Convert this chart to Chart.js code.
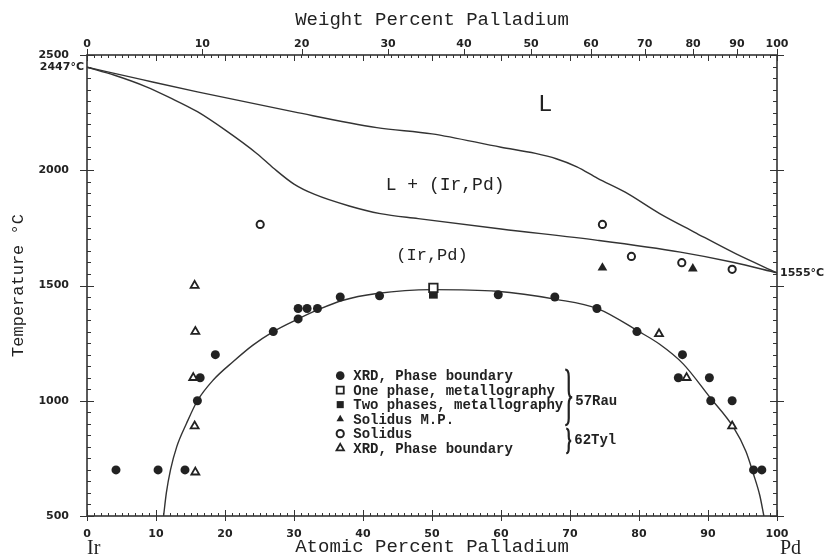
<!DOCTYPE html>
<html>
<head>
<meta charset="utf-8">
<title>Ir-Pd phase diagram</title>
<script src="https://cdn.jsdelivr.net/npm/chart.js@4.4.1/dist/chart.umd.min.js"></script>
<style>
    html, body { margin: 0; padding: 0; background: #fff; }
    canvas { display: block; }
</style>
</head>
<body>
<canvas id="chart" width="827" height="558"></canvas>
<script>
// x = atomic percent Pd, y = temperature in deg C
const liquidusAt = [0, 8, 16, 30, 42, 50, 60, 65, 68, 71, 74, 78, 83, 88, 94, 100];
const liquidusT = [2447, 2393, 2340, 2253, 2185, 2158, 2100, 2073, 2050, 2015, 1965, 1905, 1812, 1732, 1638, 1555];

const solidusAt = [0, 4, 8.6, 12, 16, 20, 24.6, 27, 30, 33, 38, 42.5, 48, 60, 74, 86, 93.6, 100];
const solidusT = [2447, 2412, 2362, 2315, 2254, 2175, 2073, 2010, 1940, 1895, 1845, 1812, 1790, 1745, 1696, 1645, 1601, 1555];

const solvusAt = [11.1, 11.5, 12.1, 13, 14.4, 16, 18.3, 21.2, 24, 27, 30.6, 33.5, 37, 42, 50, 59.4, 68, 74, 80, 83, 86.4, 90.3, 93.7, 95.5, 96.6, 97.5, 98.1];
const solvusT = [500, 600, 700, 800, 900, 1000, 1090, 1170, 1240, 1300, 1355, 1395, 1435, 1465, 1482, 1475, 1440, 1400, 1300, 1245, 1160, 1014, 884, 780, 681, 590, 500];

// 57Rau
const xrdRauAt = [4.2, 10.3, 14.2, 16.0, 16.4, 18.6, 27.0, 30.6, 30.6, 31.9, 33.4, 36.7, 42.4, 59.6, 67.8, 73.9, 79.7, 85.7, 86.3, 90.2, 90.4, 93.5, 96.6, 97.8];
const xrdRauT = [700, 700, 700, 1000, 1100, 1200, 1300, 1355, 1400, 1400, 1400, 1450, 1455, 1460, 1450, 1400, 1300, 1100, 1200, 1100, 1000, 1000, 700, 700];
const onePhaseAt = [50.2];
const onePhaseT = [1490];
const twoPhaseAt = [50.2];
const twoPhaseT = [1462];
const solidusMpAt = [74.7, 87.8];
const solidusMpT = [1577, 1573];

// 62Tyl
const solidusTylAt = [25.1, 74.7, 78.9, 86.2, 93.5];
const solidusTylT = [1765, 1765, 1626, 1599, 1570];
const xrdTylAt = [15.6, 15.7, 15.4, 15.6, 15.7, 82.9, 86.9, 93.5];
const xrdTylT = [1500, 1300, 1100, 890, 690, 1290, 1100, 890];

const wtTicks = [0, 10, 20, 30, 40, 50, 60, 70, 80, 90, 100];
const tempTicks = [500, 1000, 1500, 2000, 2500];

const M_PD = 106.42, M_IR = 192.22;
function wtToAt(w) {
    const pd = w / M_PD, ir = (100 - w) / M_IR;
    return 100 * pd / (pd + ir);
}

const ink = '#222';
const lineInk = '#333';
const tickFont = {family: 'DejaVu Sans', size: 11, weight: 'bold'};
const titleFont = {family: 'Liberation Mono', size: 19};

function pts(xs, ys) {
    return xs.map((x, i) => ({x: x, y: ys[i]}));
}

const markers = [
    {label: 'XRD, Phase boundary', data: pts(xrdRauAt, xrdRauT), pointStyle: 'circle', pointRadius: 4.5,
        pointBackgroundColor: ink, pointBorderColor: ink, pointBorderWidth: 0},
    {label: 'One phase, metallography', data: pts(onePhaseAt, onePhaseT), pointStyle: 'rect', pointRadius: 6,
        pointBackgroundColor: '#fff', pointBorderColor: ink, pointBorderWidth: 1.8},
    {label: 'Two phases, metallography', data: pts(twoPhaseAt, twoPhaseT), pointStyle: 'rect', pointRadius: 6.2,
        pointBackgroundColor: ink, pointBorderColor: ink, pointBorderWidth: 0},
    {label: 'Solidus M.P.', data: pts(solidusMpAt, solidusMpT), pointStyle: 'triangle', pointRadius: 5.6,
        pointBackgroundColor: ink, pointBorderColor: ink, pointBorderWidth: 0},
    {label: 'Solidus', data: pts(solidusTylAt, solidusTylT), pointStyle: 'circle', pointRadius: 3.6,
        pointBackgroundColor: '#fff', pointBorderColor: ink, pointBorderWidth: 2},
    {label: 'XRD, Phase boundary', data: pts(xrdTylAt, xrdTylT), pointStyle: 'triangle', pointRadius: 4.6,
        pointBackgroundColor: '#fff', pointBorderColor: ink, pointBorderWidth: 1.8},
];

function curve(xs, ys) {
    return {data: pts(xs, ys), showLine: true, pointRadius: 0, borderColor: lineInk, borderWidth: 1.4,
        cubicInterpolationMode: 'monotone', fill: false};
}

const framePlugin = {
    id: 'frame',
    afterDatasetsDraw(chart) {
        const {ctx, chartArea: a, scales: {x, y}} = chart;
        ctx.save();
        ctx.strokeStyle = lineInk;
        ctx.lineWidth = 1;
        ctx.beginPath();
        for (let v = 0; v <= 100; v++) {
            const px = Math.round(x.getPixelForValue(v)) + 0.5;
            const major = v % 10 === 0;
            ctx.moveTo(px, a.bottom + (major ? 5 : 0));
            ctx.lineTo(px, a.bottom - (major ? 6 : 3));
            ctx.moveTo(px, a.top);
            ctx.lineTo(px, a.top + (major ? 6 : 3));
        }
        wtTicks.forEach((w) => {
            const px = Math.round(x.getPixelForValue(wtToAt(w))) + 0.5;
            ctx.moveTo(px, a.top);
            ctx.lineTo(px, a.top - 6);
        });
        for (let t = 500; t <= 2500; t += 50) {
            const py = Math.round(y.getPixelForValue(t)) + 0.5;
            const major = t % 500 === 0;
            ctx.moveTo(a.left - (major ? 7 : 0), py);
            ctx.lineTo(a.left + (major ? 7 : 4), py);
            ctx.moveTo(a.right + (major ? 7 : 0), py);
            ctx.lineTo(a.right - (major ? 7 : 4), py);
        }
        ctx.stroke();
        ctx.lineWidth = 1.6;
        ctx.strokeRect(a.left, a.top, a.right - a.left, a.bottom - a.top);
        ctx.restore();
    }
};

function drawBrace(ctx, x, y1, y2, w) {
    const ym = (y1 + y2) / 2;
    const h = w / 2;
    ctx.beginPath();
    ctx.moveTo(x, y1);
    ctx.quadraticCurveTo(x + h, y1, x + h, y1 + w);
    ctx.lineTo(x + h, ym - w);
    ctx.quadraticCurveTo(x + h, ym, x + w, ym);
    ctx.quadraticCurveTo(x + h, ym, x + h, ym + w);
    ctx.lineTo(x + h, y2 - w);
    ctx.quadraticCurveTo(x + h, y2, x, y2);
    ctx.stroke();
}

const notesPlugin = {
    id: 'notes',
    afterDraw(chart) {
        const {ctx, chartArea: a, scales: {x, y}} = chart;
        ctx.save();
        ctx.fillStyle = ink;
        ctx.textBaseline = 'middle';

        // phase field labels
        ctx.textAlign = 'center';
        ctx.font = '24px "Liberation Mono"';
        ctx.fillText('L', x.getPixelForValue(66.4), y.getPixelForValue(2283));
        ctx.font = '18px "Liberation Mono"';
        ctx.fillText('L + (Ir,Pd)', x.getPixelForValue(51.9), y.getPixelForValue(1935));
        ctx.font = '17px "Liberation Mono"';
        ctx.fillText('(Ir,Pd)', x.getPixelForValue(50.0), y.getPixelForValue(1630));

        // melting points
        ctx.font = 'bold 11px "DejaVu Sans"';
        ctx.textAlign = 'right';
        ctx.fillText('2447°C', a.left - 3, y.getPixelForValue(2447));
        ctx.textAlign = 'left';
        ctx.fillText('1555°C', a.right + 3, y.getPixelForValue(1555));

        // end members
        ctx.font = '20px "Liberation Serif"';
        ctx.textAlign = 'left';
        ctx.fillText('Ir', x.getPixelForValue(0), 549);
        ctx.fillText('Pd', x.getPixelForValue(100) + 3, 549);

        // legend
        const lx = x.getPixelForValue(36.7);
        const ly = y.getPixelForValue(1109);
        const rowH = 14.5;
        ctx.font = 'bold 14px "Liberation Mono"';
        markers.forEach((m, i) => {
            const py = ly + i * rowH;
            ctx.fillStyle = m.pointBackgroundColor;
            ctx.strokeStyle = m.pointBorderColor;
            ctx.lineWidth = m.pointBorderWidth;
            const r = m.pointStyle === 'rect' ? 5 : Math.min(m.pointRadius, 4.3);
            Chart.helpers.drawPoint(ctx, {pointStyle: m.pointStyle, radius: r, rotation: 0,
                borderWidth: m.pointBorderWidth}, lx, py);
            ctx.fillStyle = ink;
            ctx.fillText(m.label, lx + 13, py + 1);
        });

        // reference braces
        ctx.strokeStyle = ink;
        ctx.lineWidth = 2.2;
        const bx = lx + 225;
        drawBrace(ctx, bx, ly - 6, ly + 3 * rowH + 6, 7);
        drawBrace(ctx, bx + 1, ly + 4 * rowH - 5, ly + 5 * rowH + 5, 5);
        ctx.fillText('57Rau', bx + 10, ly + 1.75 * rowH);
        ctx.fillText('62Tyl', bx + 9, ly + 4.5 * rowH);
        ctx.restore();
    }
};

const ctx = document.getElementById('chart');
const chart = new Chart(ctx, {
    type: 'scatter',
    data: {
        datasets: markers.concat([
            curve(liquidusAt, liquidusT),
            curve(solidusAt, solidusT),
            curve(solvusAt, solvusT),
        ]),
    },
    options: {
        responsive: false,
        animation: false,
        layout: {padding: {right: 50}},
        plugins: {
            legend: {display: false},
            tooltip: {enabled: false},
        },
        scales: {
            x: {
                type: 'linear', position: 'bottom', min: 0, max: 100,
                grid: {display: false}, border: {display: false},
                ticks: {stepSize: 10, font: tickFont, color: ink, padding: 4, maxRotation: 0, autoSkip: false,
                    callback: (v) => String(v)},
                title: {display: true, text: 'Atomic Percent Palladium', font: titleFont, color: ink,
                    padding: {top: 0, bottom: 0}},
                afterFit: (s) => { s.height = 42; },
            },
            xTop: {
                type: 'linear', position: 'top', min: 0, max: 100,
                grid: {display: false}, border: {display: false},
                afterBuildTicks: (s) => { s.ticks = wtTicks.map((w) => ({value: wtToAt(w)})); },
                ticks: {font: tickFont, color: ink, padding: -4, maxRotation: 0, autoSkip: false,
                    callback: (v, i) => String(wtTicks[i])},
                title: {display: true, text: 'Weight Percent Palladium', font: titleFont, color: ink,
                    padding: {top: 9, bottom: 0}},
                afterFit: (s) => { s.height = 55; },
            },
            y: {
                type: 'linear', position: 'left', min: 500, max: 2500,
                grid: {display: false}, border: {display: false},
                afterBuildTicks: (s) => { s.ticks = tempTicks.map((t) => ({value: t})); },
                ticks: {font: tickFont, color: ink, padding: 10, callback: (v) => String(v)},
                title: {display: true, text: 'Temperature °C', font: {family: 'Liberation Mono', size: 17},
                    color: ink, padding: {top: 8, bottom: 0}},
                afterFit: (s) => { s.width = 87; },
            },
        },
    },
    plugins: [framePlugin, notesPlugin],
});
</script>
</body>
</html>
